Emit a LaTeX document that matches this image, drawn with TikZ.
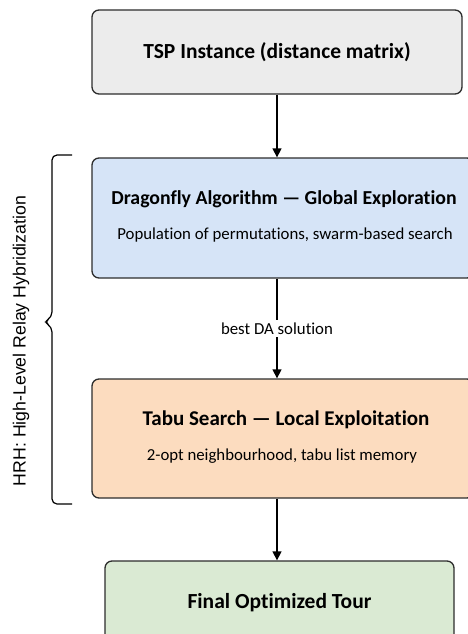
\documentclass[tikz,border=0pt]{standalone}
\usepackage{fontspec}
\setmainfont{Carlito}[Ligatures={NoCommon,TeX}]
\newfontfamily\labelfont{Liberation Sans}
\usetikzlibrary{arrows.meta}

\definecolor{tspgray}{RGB}{236,236,236}
\definecolor{dablue}{RGB}{214,228,247}
\definecolor{tspeach}{RGB}{252,220,191}
\definecolor{tourgreen}{RGB}{218,234,211}
\definecolor{edgegray}{RGB}{45,45,45}

\begin{document}
\begin{tikzpicture}[
        x=1pt, y=-1pt,
        stage/.style={draw=edgegray, line width=1.3pt, rounded corners=7pt, align=center, inner sep=0pt}, % Стиль блоков
        title/.style={font=\bfseries\fontsize{21.5}{25}\selectfont},
        sub/.style={font=\fontsize{16.8}{20}\selectfont},
        flow/.style={draw=black, line width=1.3pt, -{Triangle[width=9pt,length=9pt]}},
    ]
    \useasboundingbox (0,0) rectangle (468,634);
    \clip (0,0) rectangle (468,634);

    % Блоки
    \node[stage, fill=tspgray, minimum width=370, minimum height=84, title] (tsp) at (277,52) {TSP Instance (distance matrix)};
    \node[stage, fill=dablue, minimum width=382, minimum height=120] (da) at (283,218) {};
    \node[title, font=\bfseries\fontsize{19.8}{23}\selectfont] (datitle) at (284,199) {Dragonfly Algorithm --- Global Exploration};
    \node[sub] (dasub) at (285,235) {Population of permutations, swarm-based search};
    \node[stage, fill=tspeach, minimum width=382, minimum height=119] (ts) at (283,438.5) {};
    \node[title, font=\bfseries\fontsize{21}{24}\selectfont] (tstitle) at (286,420) {Tabu Search --- Local Exploitation};
    \node[sub] (tssub) at (282,456) {2-opt neighbourhood, tabu list memory};
    \node[stage, fill=tourgreen, minimum width=349, minimum height=84, title] (tour) at (279.5,603) {Final Optimized Tour};

    % Стрелки
    \draw[flow] (tsp.south) -- (tsp.south |- da.north);
    \draw[flow] (tsp.south |- da.south) -- node[fill=white, sub, inner sep=3pt] (relay) {best DA solution} (tsp.south |- ts.north);
    \draw[flow] (tsp.south |- ts.south) -- (tsp.south |- tour.north);

    % Скобка HRH
    \coordinate (bracetop) at (72,155);
    \coordinate (bracebot) at (72,504);
    \coordinate (bracetip) at (44,322);
    \draw[line width=1.2pt, rounded corners=5pt] (bracetop) -- (52,155) -- (52,317) -- (bracetip) -- (52,327) -- (52,504) -- (bracebot);
    \node[rotate=90, font=\labelfont\fontsize{17.7}{21}\selectfont] (hrh) at (21,341) {HRH: High-Level Relay Hybridization};
\end{tikzpicture}
\end{document}
